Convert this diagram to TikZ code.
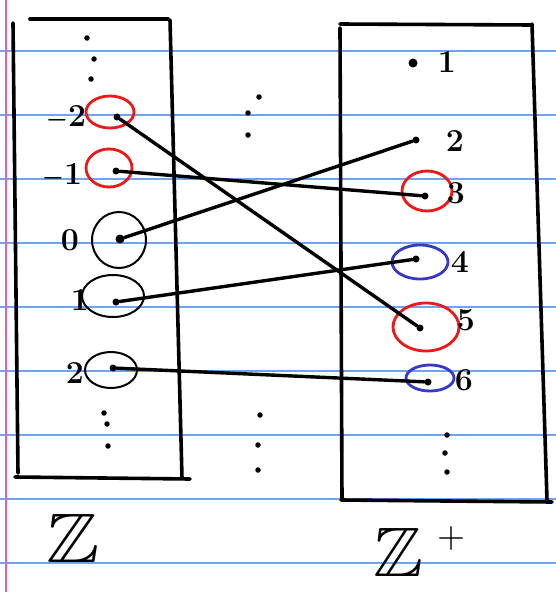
\documentclass[tikz,border=0pt]{standalone}
\usepackage{amsmath,amssymb}
\usetikzlibrary{shapes.geometric}
\definecolor{rulec}{RGB}{110,165,235}
\definecolor{marginc}{RGB}{240,90,170}
\definecolor{penred}{RGB}{235,25,25}
\definecolor{penblue}{RGB}{55,55,200}
\tikzset{
  box/.style={line width=3.6pt, line cap=round},
  link/.style={line width=3.4pt, line cap=round},
  dotpt/.style={circle, fill=black, inner sep=0pt, minimum size=7pt},
  smalldot/.style={circle, fill=black, inner sep=0pt, minimum size=5.5pt},
  ring/.style={ellipse, draw, line width=2pt, inner sep=0pt},
  redring/.style={ring, draw=penred, line width=2.8pt},
  bluering/.style={ring, draw=penblue, line width=2.8pt},
  lab/.style={font=\fontsize{32}{32}\selectfont\bfseries, inner sep=0pt},
  setlab/.style={inner sep=0pt},
}
\begin{document}
\begin{tikzpicture}[x=1pt,y=-1pt]
\useasboundingbox (0,0) rectangle (556,592);
\fill[white] (0,0) rectangle (556,592);
% lined paper
\foreach \yy in {51,115,179,243,307,371,435,499,563}
  \draw[rulec, line width=1.2pt] (0,\yy) -- (556,\yy);
\draw[marginc, line width=1.5pt] (6,0) -- (6,592);
% left box
\draw[box] (30,19) -- (168,19);
\draw[box] (13,23) -- (18,473);
\draw[box] (170,20) -- (182,478);
\draw[box] (15,477) -- (190,479);
% right box
\draw[box] (340,24) -- (532,25);
\draw[box] (340,28) -- (342,500);
\draw[box] (532,24) -- (547,500);
\draw[box] (341,500) -- (552,502);
% left vertical dots
\node[smalldot] (lt1) at (87,38) {};
\node[smalldot] (lt2) at (94,59) {};
\node[smalldot] (lt3) at (91,79) {};
\node[smalldot] (lb1) at (104,413) {};
\node[smalldot] (lb2) at (107,424) {};
\node[smalldot] (lb3) at (108,446) {};
% middle dots
\node[smalldot] (mt1) at (259,97) {};
\node[smalldot] (mt2) at (248,113) {};
\node[smalldot] (mt3) at (248,135) {};
\node[smalldot] (mb1) at (260,415) {};
\node[smalldot] (mb2) at (258,445) {};
\node[smalldot] (mb3) at (258,470) {};
% right vertical dots
\node[smalldot] (rb1) at (447,435) {};
\node[smalldot] (rb2) at (445,453) {};
\node[smalldot] (rb3) at (447,472) {};
% left elements
\node[redring, minimum width=48pt, minimum height=32pt] (cm2) at (110,112) {};
\node[redring, minimum width=46pt, minimum height=38pt] (cm1) at (109,168) {};
\node[ring, minimum width=54pt, minimum height=56pt] (c0) at (119,240) {};
\node[ring, minimum width=62pt, minimum height=42pt] (c1) at (113,296) {};
\node[ring, minimum width=52pt, minimum height=36pt] (c2) at (111,370) {};
\node[dotpt] (Lm2) at (117,117) {};
\node[dotpt] (Lm1) at (116,171) {};
\node[dotpt, minimum size=9pt] (L0) at (120,239) {};
\node[dotpt] (L1) at (116,302) {};
\node[dotpt] (L2) at (113,368) {};
\node[lab] (tm2) at (66,118) {$\boldsymbol{-}$2};
\node[lab] (tm1) at (62,176) {$\boldsymbol{-}$1};
\node[lab] (t0) at (70,240) {0};
\node[lab] (t1) at (80,300) {1};
\node[lab] (t2) at (75,373) {2};
% right elements
\node[redring, minimum width=50pt, minimum height=40pt] (cr3) at (427,191) {};
\node[bluering, minimum width=56pt, minimum height=34pt] (cr4) at (420,262) {};
\node[redring, minimum width=66pt, minimum height=48pt] (cr5) at (426,327) {};
\node[bluering, minimum width=48pt, minimum height=26pt] (cr6) at (430,378) {};
\node[dotpt, minimum size=9pt] (R1) at (413,63) {};
\node[dotpt] (R2) at (416,140) {};
\node[dotpt] (R3) at (425,196) {};
\node[dotpt] (R4) at (416,259) {};
\node[dotpt] (R5) at (420,328) {};
\node[dotpt] (R6) at (428,382) {};
\node[lab] (s1) at (447,62) {1};
\node[lab] (s2) at (455,141) {2};
\node[lab] (s3) at (456,193) {3};
\node[lab] (s4) at (460,262) {4};
\node[lab] (s5) at (466,320) {5};
\node[lab] (s6) at (464,380) {6};
% connectors
\draw[link] (Lm2) -- (R5);
\draw[link] (Lm1) -- (R3);
\draw[link] (L0) -- (R2);
\draw[link] (L1) -- (R4);
\draw[link] (L2) -- (R6);
% set labels
\node[setlab] (zl) at (73,538) {\scalebox{8}[7]{$\mathbb{Z}$}};
\node[setlab] (zr) at (398,552) {\scalebox{7.5}[7]{$\mathbb{Z}$}};
\node[setlab] (zplus) at (451,538) {\scalebox{3.6}{$+$}};
\end{tikzpicture}
\end{document}
